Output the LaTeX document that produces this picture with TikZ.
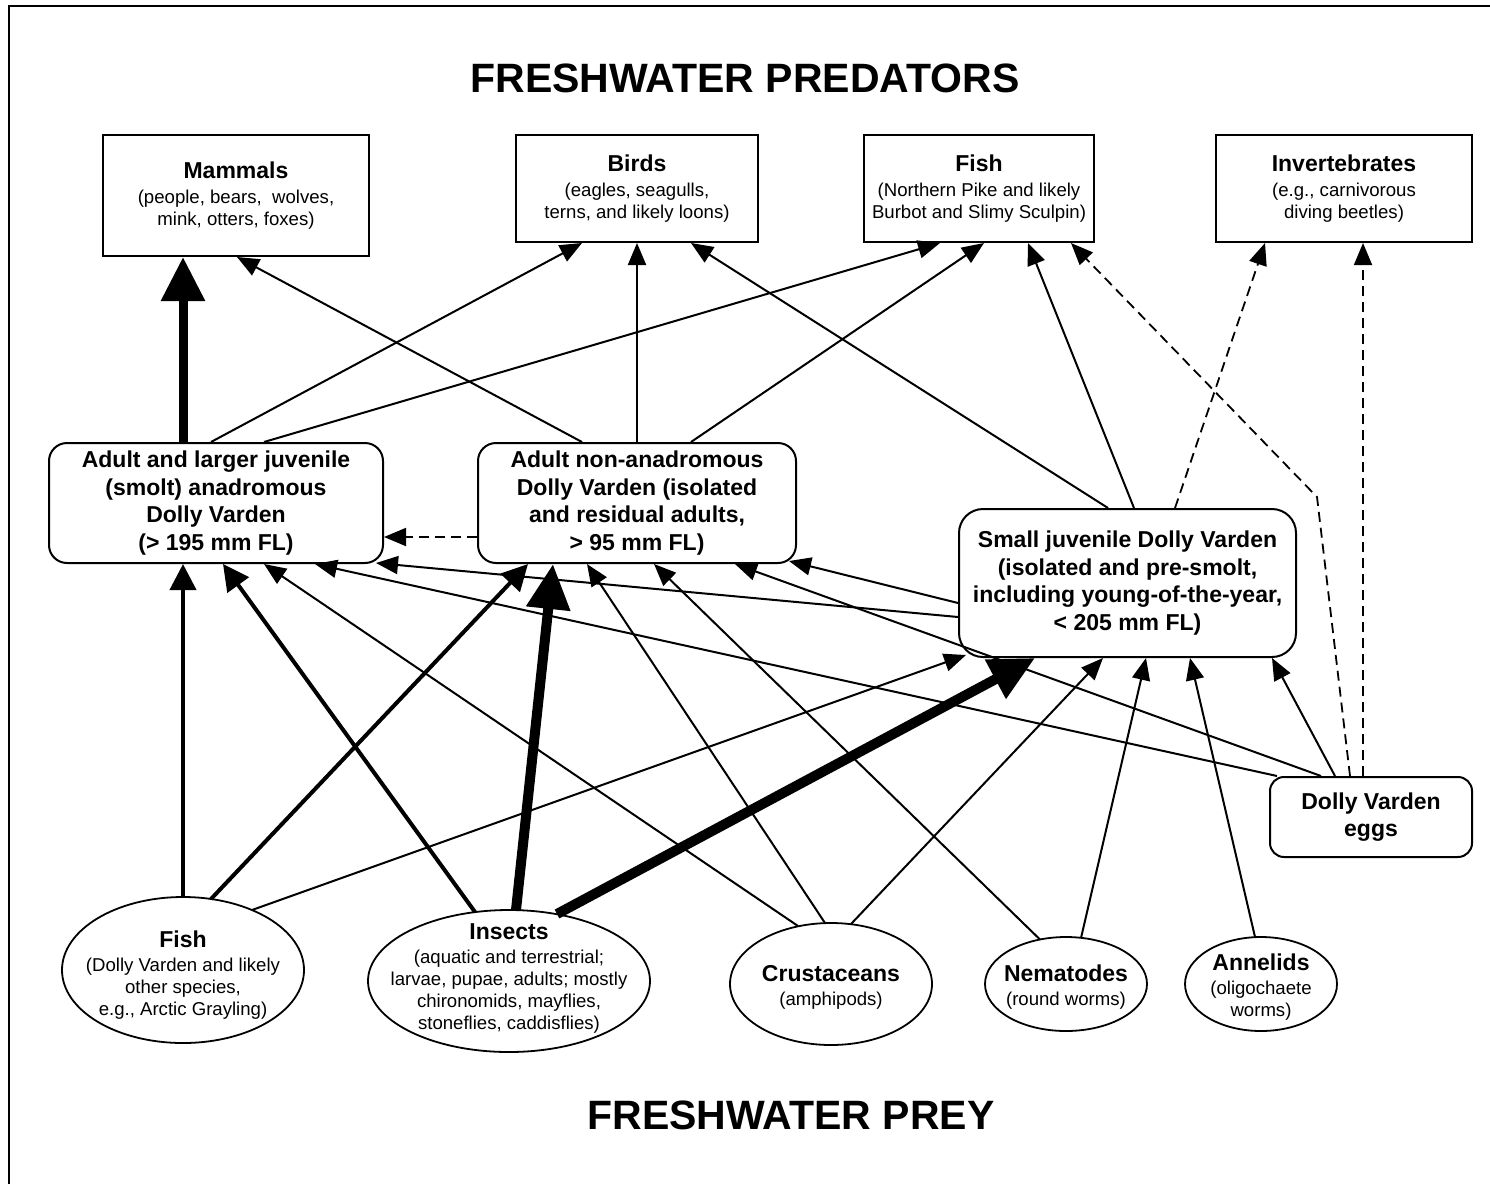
\documentclass[tikz,border=0pt]{standalone}
\usepackage{fontspec}
\setmainfont{Liberation Sans}
\usetikzlibrary{arrows.meta,shapes.geometric,calc}
\newcommand\fdbold{\bfseries\fontsize{23}{27.5}\selectfont}
\newcommand\fdsmall{\fontsize{18.6}{22}\selectfont}
\newcommand\fdtitle{\bfseries\fontsize{41}{48}\selectfont}
\tikzset{
  pbox/.style={draw, line width=2pt, rectangle, inner sep=0pt, align=center, font=\fdsmall},
  mbox/.style={draw, line width=2pt, rectangle, rounded corners=18pt, inner sep=0pt, align=center, font=\fdbold},
  ell/.style={draw, line width=1.8pt, ellipse, inner sep=0pt},
  etext/.style={align=center, font=\fdsmall, inner sep=0pt},
  conn/.style={line width=2pt, -{Triangle[length=22pt,width=18pt]}},
  medc/.style={line width=4pt, -{Triangle[length=26pt,width=26pt]}},
  bigc/.style={line width=9pt, -{Triangle[length=44pt,width=42pt]}},
  hugec/.style={line width=10pt, -{Triangle[length=45pt,width=42pt]}},
  dconn/.style={line width=1.8pt, dash pattern=on 10pt off 6pt, -{Triangle[length=22pt,width=18pt]}},
}
\begin{document}
\begin{tikzpicture}[x=1pt,y=-1pt]
\useasboundingbox (0,0) rectangle (1490,1184);
\draw[line width=2.7pt, line join=miter] (9,1184) -- (9,6) -- (1490,6);

% titles
\node[font=\fdtitle, inner sep=0pt] (ttop) at (745,78) {FRESHWATER PREDATORS};
\node[font=\fdtitle, inner sep=0pt] (tbot) at (791,1115) {FRESHWATER PREY};

% predators
\node[pbox, minimum width=266pt, minimum height=121pt] (Mam) at (236,195.5)
  {{\fdbold Mammals}\\[3pt](people, bears,\ \ wolves,\\mink, otters, foxes)};
\node[pbox, minimum width=242pt, minimum height=107pt] (Birds) at (637,188.5)
  {{\fdbold Birds}\\[3pt](eagles, seagulls,\\terns, and likely loons)};
\node[pbox, minimum width=230pt, minimum height=107pt] (FishP) at (979,188.5)
  {{\fdbold Fish}\\[3pt](Northern Pike and likely\\Burbot and Slimy Sculpin)};
\node[pbox, minimum width=256pt, minimum height=107pt] (Inv) at (1344,188.5)
  {{\fdbold Invertebrates}\\[3pt](e.g., carnivorous\\diving beetles)};

% Dolly Varden stages
\node[mbox, minimum width=334pt, minimum height=120pt] (A) at (216,503)
  {Adult and larger juvenile\\(smolt) anadromous\\Dolly Varden\\(> 195 mm FL)};
\node[mbox, minimum width=318pt, minimum height=120pt] (B) at (637,503)
  {Adult non-anadromous\\Dolly Varden (isolated\\and residual adults,\\> 95 mm FL)};
\node[mbox, rounded corners=24pt, minimum width=337pt, minimum height=148pt] (C) at (1127.5,583)
  {Small juvenile Dolly Varden\\(isolated and pre-smolt,\\including young-of-the-year,\\< 205 mm FL)};
\node[mbox, rounded corners=14pt, minimum width=202pt, minimum height=80pt] (D) at (1371,817)
  {Dolly Varden\\eggs};

% prey
\node[ell, minimum width=242pt, minimum height=146pt] (F) at (183,970) {};
\node[etext] (Ft) at (183,975) {{\fdbold Fish}\\[2pt](Dolly Varden and likely\\other species,\\e.g., Arctic Grayling)};
\node[ell, minimum width=282pt, minimum height=142pt] (I) at (509,981) {};
\node[etext] (It) at (509,978) {{\fdbold Insects}\\[2pt](aquatic and terrestrial;\\larvae, pupae, adults; mostly\\chironomids, mayflies,\\stoneflies, caddisflies)};
\node[ell, minimum width=202pt, minimum height=122pt] (Cr) at (831,984) {};
\node[etext] (Crt) at (831,987) {{\fdbold Crustaceans}\\[2pt](amphipods)};
\node[ell, minimum width=162pt, minimum height=94pt] (N) at (1066,984) {};
\node[etext] (Nt) at (1066,987) {{\fdbold Nematodes}\\[2pt](round worms)};
\node[ell, minimum width=152pt, minimum height=94pt] (An) at (1261,984) {};
\node[etext] (Ant) at (1261,987) {{\fdbold Annelids}\\[2pt](oligochaete\\worms)};

\coordinate (bend) at (1317,497);

% to predators
\draw[bigc] ([xshift=-33pt]A.north) -- ([xshift=-53pt]Mam.south);
\draw[conn] ([xshift=-55pt]B.north) -- ([xshift=1pt]Mam.south);
\draw[conn] ([xshift=-5pt]A.north) -- ([xshift=-55pt]Birds.south);
\draw[conn] (B.north) -- (Birds.south);
\draw[conn] ([xshift=-19.5pt]C.north) -- ([xshift=54pt]Birds.south);
\draw[conn] ([xshift=48pt]A.north) -- ([xshift=-39pt]FishP.south);
\draw[conn] ([xshift=54pt]B.north) -- ([xshift=5pt]FishP.south);
\draw[conn] ([xshift=6.5pt]C.north) -- ([xshift=49pt]FishP.south);
\draw[dconn] ([xshift=-21pt]D.north) -- (bend) -- ([xshift=92pt]FishP.south);
\draw[dconn] ([xshift=47.5pt]C.north) -- ([xshift=-79pt]Inv.south);
\draw[dconn] ([xshift=-8pt]D.north) -- ([xshift=19pt]Inv.south);

% among Dolly Varden
\draw[dconn] ([yshift=-34pt]B.west) -- ([yshift=-34pt]A.east);
\draw[conn] ([yshift=-20pt]C.west) -- ($(B.south east)+(-8,-3)$);
\draw[conn] ([yshift=-34pt]C.west) -- ($(A.south east)+(-8,-1)$);
\draw[conn] ([xshift=-94pt]D.north) -- ([xshift=99pt]A.south);
\draw[conn] ([xshift=-50pt]D.north) -- ([xshift=98pt]B.south);
\draw[conn] ([xshift=-36pt]D.north) -- ([xshift=144.5pt]C.south);

% from prey
\draw[medc] (F.north) -- (F.north |- A.south);
\draw[medc] ($(F)+(28,-71)$) -- ([xshift=-109pt]B.south);
\draw[conn] ($(F)+(69,-60)$) -- ($(C.south west)+(8,-3)$);
\draw[medc] ($(I)+(-34,-69)$) -- ([xshift=7pt]A.south);
\draw[hugec] ($(I)+(7,-71)$) -- ([xshift=-84pt]B.south);
\draw[hugec] ($(I)+(48,-67)$) -- ([xshift=-92.5pt]C.south);
\draw[conn] ($(Cr)+(-33,-58)$) -- ([xshift=48pt]A.south);
\draw[conn] ($(Cr)+(-6,-61)$) -- ([xshift=-50pt]B.south);
\draw[conn] ($(Cr)+(20,-60)$) -- ([xshift=-24.5pt]C.south);
\draw[conn] ($(N)+(-26,-44.5)$) -- ([xshift=17pt]B.south);
\draw[conn] ($(N)+(15,-46)$) -- ([xshift=18.5pt]C.south);
\draw[conn] ($(An)+(-6,-47)$) -- ([xshift=62.5pt]C.south);
\end{tikzpicture}
\end{document}
